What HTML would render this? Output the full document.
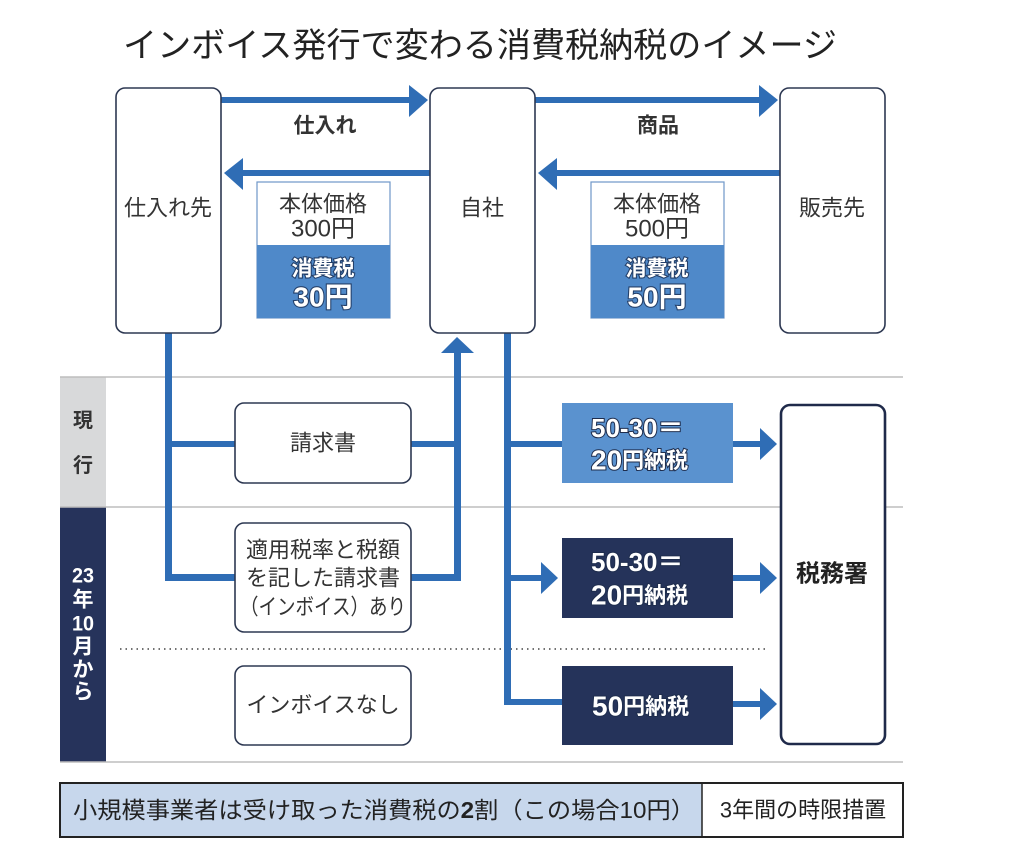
<!DOCTYPE html>
<html><head><meta charset="utf-8">
<style>
html,body{margin:0;padding:0;background:#fff;}
svg{display:block;}
text{font-family:"Liberation Sans","Noto Sans CJK JP",sans-serif;}
</style></head>
<body>
<svg width="1024" height="854" viewBox="0 0 1024 854" xmlns="http://www.w3.org/2000/svg">
<rect width="1024" height="854" fill="#fff"/>
<!-- Title -->
<text x="480" y="46" font-size="34" fill="#222" text-anchor="middle" dominant-baseline="central" textLength="714" lengthAdjust="spacingAndGlyphs">インボイス発行で変わる消費税納税のイメージ</text>

<!-- section column -->
<rect x="60" y="377" width="46" height="130" fill="#d8d9da"/>
<rect x="60" y="507" width="46" height="255" fill="#26335b"/>
<!-- gray separator lines -->
<line x1="60" y1="377" x2="903" y2="377" stroke="#bdbdbd" stroke-width="1.5"/>
<line x1="60" y1="507" x2="903" y2="507" stroke="#bdbdbd" stroke-width="1.5"/>
<line x1="60" y1="762" x2="903" y2="762" stroke="#bdbdbd" stroke-width="1.5"/>
<line x1="120" y1="649" x2="767" y2="649" stroke="#444" stroke-width="1.5" stroke-dasharray="1.5,4"/>

<text x="83" y="421" font-size="20" font-weight="bold" fill="#333" text-anchor="middle" dominant-baseline="central">現</text>
<text x="83" y="466" font-size="20" font-weight="bold" fill="#333" text-anchor="middle" dominant-baseline="central">行</text>
<g font-size="21" font-weight="bold" fill="#fff" text-anchor="middle" dominant-baseline="central">
<text x="83" y="576" textLength="22" lengthAdjust="spacingAndGlyphs">23</text>
<text x="83" y="600">年</text>
<text x="83" y="624" textLength="22" lengthAdjust="spacingAndGlyphs">10</text>
<text x="83" y="647">月</text>
<text x="83" y="670">か</text>
<text x="83" y="692">ら</text>
</g>

<!-- connectors -->
<g fill="#2f6db5" stroke="none">
<rect x="221" y="97" width="190" height="6"/>
<polygon points="409,85 428,100 409,117"/>
<rect x="535" y="97" width="226" height="6"/>
<polygon points="759,85 778,100 759,117"/>
<rect x="241" y="170" width="189" height="6"/>
<polygon points="243,158 224,173 243,190"/>
<rect x="555" y="170" width="225" height="6"/>
<polygon points="557,158 538,173 557,190"/>
<rect x="165" y="333" width="7" height="248"/>
<rect x="165" y="441" width="70" height="6"/>
<rect x="165" y="574" width="70" height="7"/>
<rect x="411" y="441" width="50" height="6"/>
<rect x="411" y="574" width="50" height="7"/>
<rect x="454" y="351" width="7" height="230"/>
<polygon points="441,353 457,337 474,353"/>
<rect x="504" y="333" width="7" height="372"/>
<rect x="504" y="441" width="58" height="6"/>
<rect x="504" y="575" width="40" height="6"/>
<polygon points="541,562 558,578 541,594"/>
<rect x="504" y="699" width="58" height="6"/>
<rect x="733" y="441" width="29" height="6"/>
<polygon points="760,428 777,444 760,460"/>
<rect x="733" y="575" width="29" height="6"/>
<polygon points="760,562 777,578 760,594"/>
<rect x="733" y="701" width="29" height="6"/>
<polygon points="760,688 777,704 760,720"/>
</g>

<text x="325" y="126" font-size="21" font-weight="bold" fill="#333" text-anchor="middle" dominant-baseline="central">仕入れ</text>
<text x="658" y="126" font-size="21" font-weight="bold" fill="#333" text-anchor="middle" dominant-baseline="central">商品</text>

<g fill="#fff" stroke="#2d3852" stroke-width="1.6">
<rect x="116" y="88" width="105" height="245" rx="9"/>
<rect x="430" y="88" width="105" height="245" rx="9"/>
<rect x="780" y="88" width="105" height="245" rx="9"/>
<rect x="235" y="403" width="176" height="80" rx="9"/>
<rect x="235" y="523" width="176" height="109" rx="9"/>
<rect x="235" y="666" width="176" height="79" rx="9"/>
</g>
<rect x="781" y="405" width="104" height="339" rx="9" fill="#fff" stroke="#1f2a4a" stroke-width="2.6"/>

<g font-size="22" fill="#333" text-anchor="middle" dominant-baseline="central">
<text x="168" y="208">仕入れ先</text>
<text x="482" y="208">自社</text>
<text x="832" y="208">販売先</text>
<text x="323" y="443">請求書</text>
<text x="323" y="550">適用税率と税額</text>
<text x="323" y="578">を記した請求書</text>
<text x="323" y="607" textLength="166" lengthAdjust="spacingAndGlyphs">（インボイス）あり</text>
<text x="323" y="705">インボイスなし</text>
</g>
<text x="832" y="574" font-size="24" font-weight="bold" fill="#222" text-anchor="middle" dominant-baseline="central">税務署</text>

<rect x="257" y="182" width="133" height="136" fill="#fff" stroke="#6e97c8" stroke-width="1.2"/>
<rect x="257" y="245" width="133" height="73" fill="#4f89c9"/>
<rect x="591" y="182" width="133" height="136" fill="#fff" stroke="#6e97c8" stroke-width="1.2"/>
<rect x="591" y="245" width="133" height="73" fill="#4f89c9"/>
<g font-size="22" fill="#333" text-anchor="middle" dominant-baseline="central">
<text x="323" y="204">本体価格</text>
<text x="323" y="229" font-size="24">300円</text>
<text x="657" y="204">本体価格</text>
<text x="657" y="229" font-size="24">500円</text>
</g>
<g font-weight="bold" fill="#fff" stroke="#24406a" stroke-width="2.2" paint-order="stroke" text-anchor="middle" dominant-baseline="central">
<text x="323" y="269" font-size="21">消費税</text>
<text x="323" y="297" font-size="28">30円</text>
<text x="657" y="269" font-size="21">消費税</text>
<text x="657" y="297" font-size="28">50円</text>
</g>

<rect x="562" y="403" width="171" height="80" fill="#5a92cf"/>
<rect x="562" y="538" width="171" height="80" fill="#25335a"/>
<rect x="562" y="666" width="171" height="79" fill="#25335a"/>
<g font-weight="bold" fill="#fff" stroke="#1e2d4d" stroke-width="2" paint-order="stroke" dominant-baseline="central">
<text x="591" y="428" font-size="26">50-30＝</text>
<text x="591" y="460" font-size="28">20<tspan font-size="22">円納税</tspan></text>
<text x="591" y="562" font-size="26">50-30＝</text>
<text x="591" y="595" font-size="28">20<tspan font-size="22">円納税</tspan></text>
<text x="592" y="706" font-size="28">50<tspan font-size="22">円納税</tspan></text>
</g>

<rect x="60" y="783" width="843" height="54" fill="#c7d7ec" stroke="#222" stroke-width="2"/>
<rect x="702" y="784" width="200" height="52" fill="#fff"/>
<line x1="702" y1="783" x2="702" y2="837" stroke="#222" stroke-width="1.5"/>
<text x="73" y="810" font-size="23" fill="#222" dominant-baseline="central" textLength="622" lengthAdjust="spacingAndGlyphs">小規模事業者は受け取った消費税の<tspan font-weight="bold">2</tspan>割（この場合10円）</text>
<text x="803" y="810" font-size="22" fill="#222" text-anchor="middle" dominant-baseline="central">3年間の時限措置</text>
</svg>
</body></html>
